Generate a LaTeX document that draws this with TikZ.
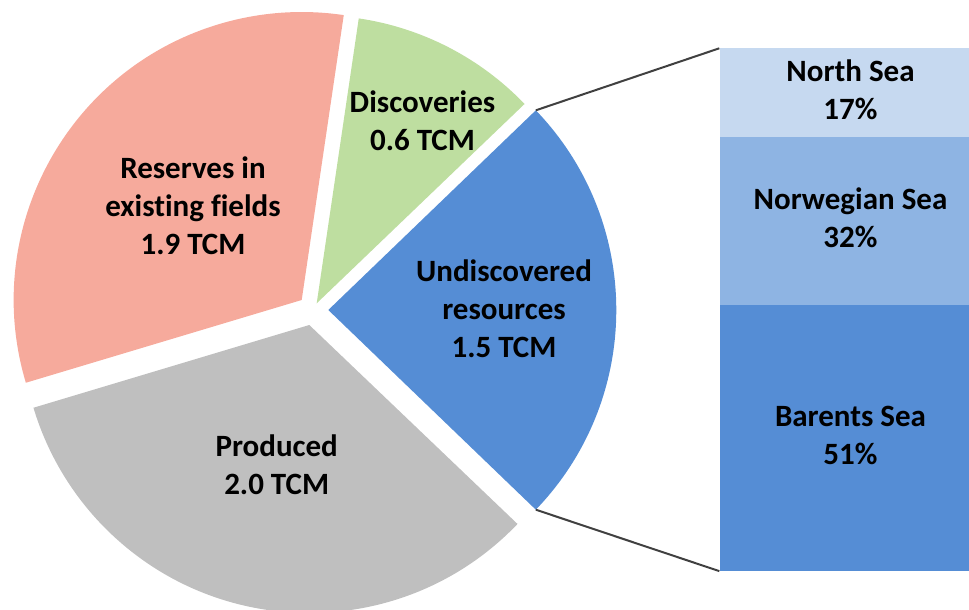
\documentclass[tikz,border=0pt]{standalone}
\usepackage{fontspec}
\setmainfont{Carlito}[Ligatures=NoCommon]
\definecolor{pinkc}{RGB}{246,170,156}
\definecolor{greenc}{RGB}{190,222,160}
\definecolor{bluec}{RGB}{85,141,213}
\definecolor{grayc}{RGB}{191,191,191}
\definecolor{barl}{RGB}{198,217,240}
\definecolor{barm}{RGB}{142,180,227}
\definecolor{bard}{RGB}{85,141,213}
\definecolor{linec}{RGB}{64,64,64}
\begin{document}
\begin{tikzpicture}[x=1pt,y=-1pt,
  lbl/.style={inner sep=0pt, align=center, text=black, font=\fontsize{31}{38}\selectfont\bfseries},
  seg/.style={lbl, rectangle, minimum width=262pt, anchor=north west},
  conn/.style={draw=linec, line width=2pt}]
\useasboundingbox (0,0) rectangle (969,610);
\clip (0,0) rectangle (969,610);
% pie slices (y axis points down, so angles are negated)
\fill[pinkc] (301.7,300) -- ++(-196.7:288) arc[start angle=-196.7, end angle=-81.6, radius=288] -- cycle;
\fill[greenc] (316.7,303.3) -- ++(-81.6:288) arc[start angle=-81.6, end angle=-43.8, radius=288] -- cycle;
\fill[grayc] (309.3,325) -- ++(-316.3:288) arc[start angle=-316.3, end angle=-196.7, radius=288] -- cycle;
\fill[bluec] (328.3,310) -- ++(43.9:288) coordinate (bb) arc[start angle=43.9, end angle=-43.9, radius=288] coordinate (bt) -- cycle;
% pie labels
\node[lbl] (res) at (193,208.4) {\strut Reserves in\\\strut existing fields\\\strut 1.9 TCM};
\node[lbl] (dis) at (422.5,123.5) {\strut Discoveries\\\strut 0.6 TCM};
\node[lbl] (und) at (504,312.1) {\strut Undiscovered\\\strut resources\\\strut 1.5 TCM};
\node[lbl] (pro) at (276.7,468.1) {\strut Produced\\\strut 2.0 TCM};
% bar
\node[seg, fill=barl, minimum height=88.8pt] (ns) at (719.3,48.3) {\strut North Sea\\\strut 17\%};
\node[seg, fill=barm, minimum height=167.2pt] (nw) at (719.3,137.1) {\strut Norwegian Sea\\\strut 32\%};
\node[seg, fill=bard, minimum height=266.4pt] (bs) at (719.3,304.3) {\strut Barents Sea\\\strut 51\%};
% connectors
\draw[conn] (bt) -- (ns.north west);
\draw[conn] (bb) -- (bs.south west);
\end{tikzpicture}
\end{document}
